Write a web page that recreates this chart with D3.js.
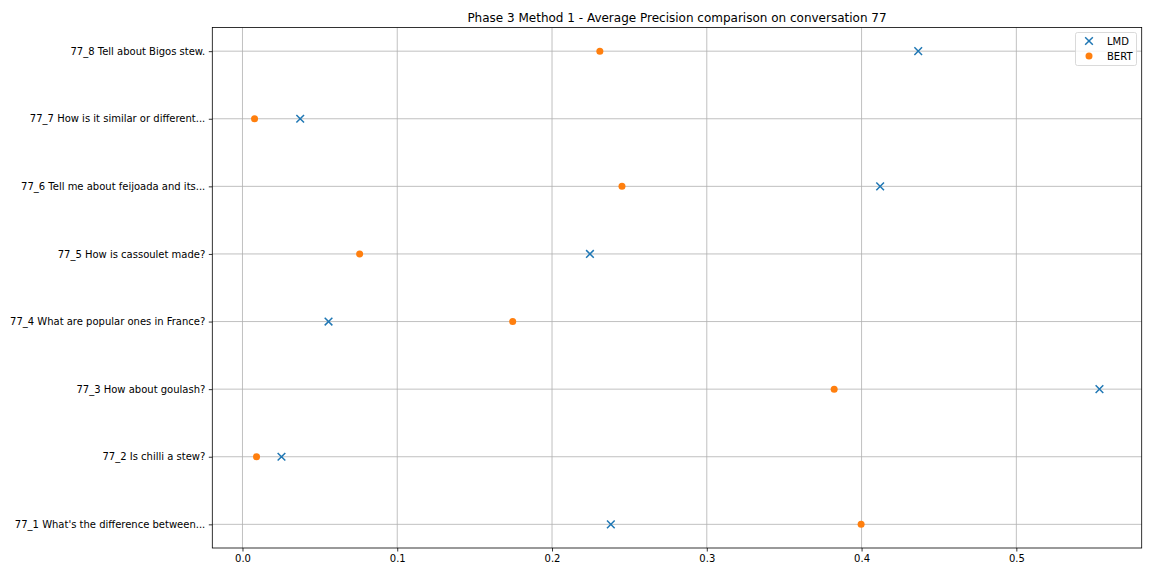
<!DOCTYPE html>
<html>
<head>
<meta charset="utf-8">
<script src="https://cdn.jsdelivr.net/npm/d3@7"></script>
<style>
html,body{margin:0;padding:0;background:#fff;}
svg{display:block;font-family:"DejaVu Sans",sans-serif;}
</style>
</head>
<body>
<svg id="chart" width="1152" height="576"></svg>
<script>
const categories = [
  "77_1 What's the difference between...",
  "77_2 Is chilli a stew?",
  "77_3 How about goulash?",
  "77_4 What are popular ones in France?",
  "77_5 How is cassoulet made?",
  "77_6 Tell me about feijoada and its...",
  "77_7 How is it similar or different...",
  "77_8 Tell about Bigos stew."
];
const lmdValues  = [0.238, 0.0252, 0.5537, 0.0556, 0.2245, 0.412, 0.0373, 0.4366];
const bertValues = [0.3997, 0.0091, 0.3823, 0.1746, 0.0757, 0.2452, 0.0078, 0.2309];
const xTicks = [0.0, 0.1, 0.2, 0.3, 0.4, 0.5];
const seriesNames = ["LMD", "BERT"];
const titleText = "Phase 3 Method 1 - Average Precision comparison on conversation 77";

const svg = d3.select("#chart");
const L = 212.3, R = 1141.7, T = 27.5, B = 548;
const all = lmdValues.concat(bertValues);
const mn = d3.min(all), mx = d3.max(all), pad = (mx - mn) * 0.05;
const x = d3.scaleLinear().domain([mn - pad, mx + pad]).range([L, R]);
const n = categories.length;
const y = d3.scaleLinear().domain([-0.35, n - 1 + 0.35]).range([B, T]);

// grid
const g = svg.append("g");
g.selectAll(".vg").data(xTicks).enter().append("line")
  .attr("x1", d => x(d)).attr("x2", d => x(d)).attr("y1", T).attr("y2", B)
  .attr("stroke", "#b0b0b0").attr("stroke-width", 0.8);
g.selectAll(".hg").data(categories).enter().append("line")
  .attr("y1", (d,i) => y(i)).attr("y2", (d,i) => y(i)).attr("x1", L).attr("x2", R)
  .attr("stroke", "#b0b0b0").attr("stroke-width", 0.8);

// axes
const xAxis = d3.axisBottom(x).tickValues(xTicks).tickFormat(d3.format(".1f")).tickSize(3.5).tickPadding(3.5);
const xg = svg.append("g").attr("transform", `translate(0,${B})`).call(xAxis);
xg.select(".domain").remove();
xg.selectAll("text").attr("font-size", 10).attr("fill", "#000").attr("font-family", "DejaVu Sans");
xg.selectAll("line").attr("stroke", "#000").attr("stroke-width", 0.8);

const yAxis = d3.axisLeft(y).tickValues(d3.range(n)).tickFormat(i => categories[i]).tickSize(3.5).tickPadding(3.5);
const yg = svg.append("g").attr("transform", `translate(${L},0)`).call(yAxis);
yg.select(".domain").remove();
yg.selectAll("text").attr("font-size", 10).attr("fill", "#000").attr("font-family", "DejaVu Sans");
yg.selectAll("line").attr("stroke", "#000").attr("stroke-width", 0.8);

// frame
svg.append("rect").attr("x", L).attr("y", T).attr("width", R - L).attr("height", B - T)
  .attr("fill", "none").attr("stroke", "#000").attr("stroke-width", 0.8);

// markers
const cross = d3.symbol().type(d3.symbolX).size(40);
svg.append("g").selectAll("path").data(lmdValues).enter().append("path")
  .attr("d", cross)
  .attr("transform", (d,i) => `translate(${x(d)},${y(i)})`)
  .attr("fill", "none").attr("stroke", "#1f77b4").attr("stroke-width", 1.5);
svg.append("g").selectAll("circle").data(bertValues).enter().append("circle")
  .attr("cx", d => x(d)).attr("cy", (d,i) => y(i)).attr("r", 3.5)
  .attr("fill", "#ff7f0e");

// title
svg.append("text").attr("x", (L + R) / 2).attr("y", T - 6).attr("text-anchor", "middle")
  .attr("font-size", 12).attr("fill", "#000").text(titleText);

// legend
const lg = svg.append("g");
lg.append("rect").attr("x", 1075.5).attr("y", 32.5).attr("width", 61).attr("height", 33).attr("rx", 2)
  .attr("fill", "#fff").attr("fill-opacity", 0.8).attr("stroke", "#d0d0d0").attr("stroke-width", 0.8);
lg.append("path").attr("d", cross).attr("transform", "translate(1089,41)")
  .attr("fill", "none").attr("stroke", "#1f77b4").attr("stroke-width", 1.5);
lg.append("circle").attr("cx", 1089).attr("cy", 56).attr("r", 3.5).attr("fill", "#ff7f0e");
lg.append("text").attr("x", 1107).attr("y", 44.5).attr("font-size", 10).attr("fill", "#000").text(seriesNames[0]);
lg.append("text").attr("x", 1107).attr("y", 59.5).attr("font-size", 10).attr("fill", "#000").text(seriesNames[1]);
</script>
</body>
</html>
